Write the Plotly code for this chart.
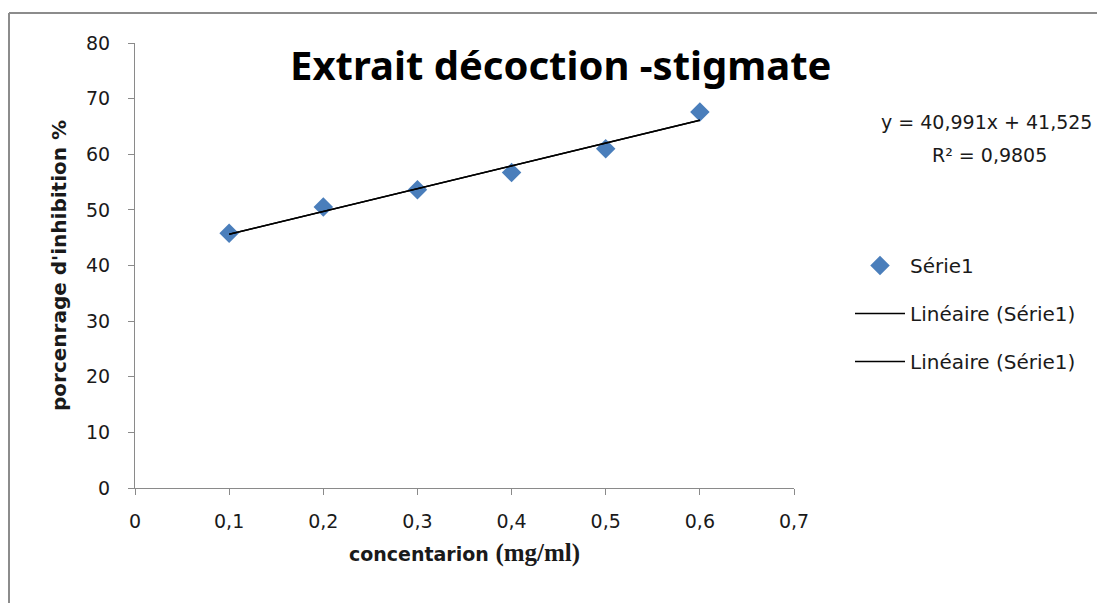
import plotly.graph_objects as go

# Concentration (mg/ml) and inhibition percentage
concentration = [0.1, 0.2, 0.3, 0.4, 0.5, 0.6]
inhibition = [45.8, 50.5, 53.6, 56.7, 61.0, 67.6]

# Linear trendline coefficients and fit quality
slope = 40.991
intercept = 41.525
r_squared = 0.9805

x_ticks = [0, 0.1, 0.2, 0.3, 0.4, 0.5, 0.6, 0.7]
x_tick_text = ["0", "0,1", "0,2", "0,3", "0,4", "0,5", "0,6", "0,7"]
y_ticks = [0, 10, 20, 30, 40, 50, 60, 70, 80]
y_tick_text = [str(v) for v in y_ticks]

W, H = 1097, 603
L, R, T, B = 135, 303, 43, 115
pw, ph = W - L - R, H - T - B


def px_x(px):
    return (px - L) / pw


def px_y(py):
    return (H - B - py) / ph


def fmt(v, d):
    return f"{v:.{d}f}".replace(".", ",")


trend_x = [concentration[0], concentration[-1]]
trend_y = [slope * x + intercept for x in trend_x]

FONT = "DejaVu Sans"
TITLE_FONT = "Noto Sans"
GREY_AXIS = "#8a8a8a"
FRAME = "#8c8c8c"
TEXT = "#1a1a1a"

fig = go.Figure()
fig.add_trace(go.Scatter(
    x=concentration, y=inhibition, mode="markers", name="Série1",
    legendgroup="a",
    marker=dict(symbol="diamond", size=15, color="#4a7ebb"),
))
for g in ("b", "c"):
    fig.add_trace(go.Scatter(
        x=trend_x, y=trend_y, mode="lines", name="Linéaire (Série1)",
        legendgroup=g,
        line=dict(color="black", width=1.5),
    ))

# chart-area frame: top edge and left edge
frame = [
    dict(type="line", xref="paper", yref="paper",
         x0=px_x(9), x1=px_x(1300), y0=px_y(13), y1=px_y(13),
         line=dict(color=FRAME, width=2), layer="below"),
    dict(type="line", xref="paper", yref="paper",
         x0=px_x(9), x1=px_x(9), y0=px_y(13), y1=px_y(700),
         line=dict(color=FRAME, width=2), layer="below"),
]

fig.update_layout(
    width=W, height=H,
    margin=dict(l=L, r=R, t=T, b=B),
    paper_bgcolor="white", plot_bgcolor="white",
    font=dict(family=FONT, size=18, color=TEXT),
    showlegend=True,
    legend=dict(
        x=px_x(850), y=px_y(246), xanchor="left", yanchor="top",
        font=dict(family=FONT, size=20, color=TEXT),
        tracegroupgap=19, itemwidth=50, bgcolor="rgba(0,0,0,0)",
    ),
    xaxis=dict(
        range=[0, 0.7], tickvals=x_ticks, ticktext=x_tick_text,
        showgrid=False, zeroline=False, showline=True,
        linecolor=GREY_AXIS, linewidth=1,
        ticks="outside", ticklen=6, tickcolor=GREY_AXIS,
        ticklabelstandoff=10,
        tickfont=dict(family=FONT, size=19, color=TEXT),
        title=dict(
            text="<b>concentarion </b><b><span style=\"font-family:'Liberation Serif';font-size:25px\">(mg/ml)</span></b>",
            font=dict(family=FONT, size=19, color=TEXT), standoff=16,
        ),
    ),
    yaxis=dict(
        range=[0, 80], tickvals=y_ticks, ticktext=y_tick_text,
        showgrid=False, zeroline=False, showline=True,
        linecolor=GREY_AXIS, linewidth=1,
        ticks="outside", ticklen=6, tickcolor=GREY_AXIS,
        ticklabelstandoff=14,
        tickfont=dict(family=FONT, size=19, color=TEXT),
        title=dict(
            text="<b>porcenrage d'inhibition %</b>",
            font=dict(family=FONT, size=20, color=TEXT), standoff=14,
        ),
    ),
    shapes=frame,
    annotations=[
        dict(
            text="<b>Extrait décoction -stigmate</b>", xref="paper", yref="paper",
            x=px_x(560), y=px_y(65), xanchor="center", yanchor="middle",
            showarrow=False, font=dict(family=TITLE_FONT, size=40, color="black"),
        ),
        dict(
            text=f"y = {fmt(slope, 3)}x + {fmt(intercept, 3)}", xref="paper", yref="paper",
            x=px_x(879), y=px_y(122), xanchor="left", yanchor="middle",
            showarrow=False, font=dict(family=FONT, size=19, color=TEXT),
        ),
        dict(
            text=f"R² = {fmt(r_squared, 4)}", xref="paper", yref="paper",
            x=px_x(990), y=px_y(155), xanchor="center", yanchor="middle",
            showarrow=False, font=dict(family=FONT, size=19, color=TEXT),
        ),
    ],
)

fig.write_html("out.html")
